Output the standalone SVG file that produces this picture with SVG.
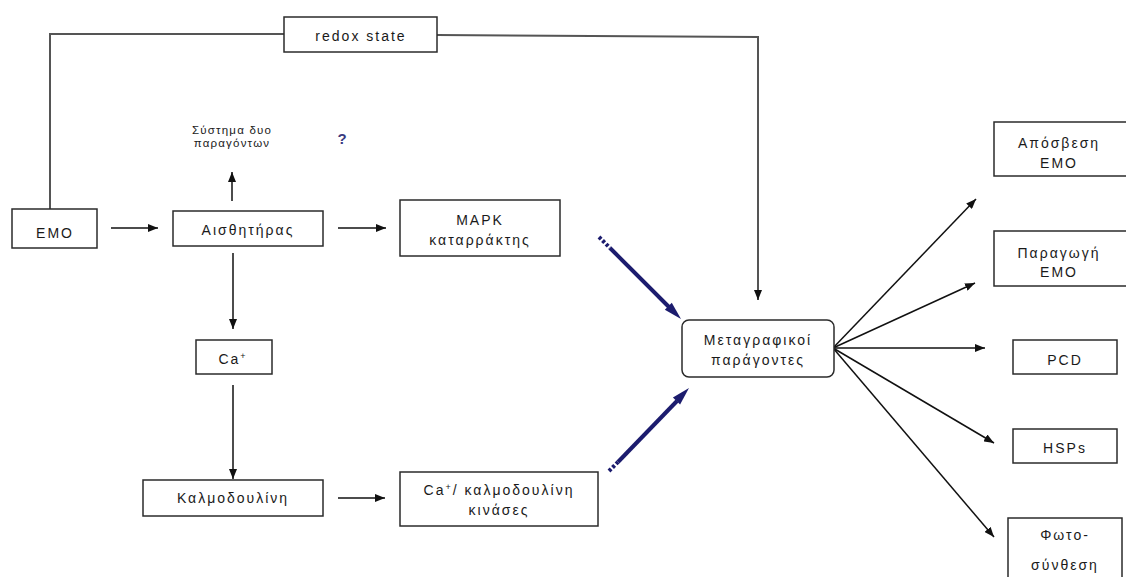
<svg xmlns="http://www.w3.org/2000/svg" width="1126" height="577" viewBox="0 0 1126 577">
  <style>
    .box { fill: #ffffff; stroke: #2b2b2b; stroke-width: 1.5; }
    .lbl { font-family: "Liberation Sans", Arial, sans-serif; font-size: 14px; letter-spacing: 2px; fill: #1a1a1a; text-anchor: middle; }
    .small { font-family: "Liberation Sans", Arial, sans-serif; font-size: 11.5px; letter-spacing: 1.2px; fill: #1a1a1a; text-anchor: middle; }
    .q { font-family: "Liberation Sans", Arial, sans-serif; font-size: 15px; font-weight: bold; fill: #3a3a80; text-anchor: middle; }
    .arr { fill: none; stroke: #111111; stroke-width: 1.5; marker-end: url(#head); }
    .feedback { fill: none; stroke: #555555; stroke-width: 2; }
    .blue { stroke: #1c1c6e; stroke-width: 4; fill: none; }
    .blue-tail { stroke: #1c1c6e; stroke-width: 4; fill: none; stroke-dasharray: 3 2; }
    .blue-head { fill: #1c1c6e; }
  </style>
  <defs>
    <marker id="head" markerUnits="userSpaceOnUse" markerWidth="10" markerHeight="8" refX="10" refY="4" orient="auto">
      <path d="M0,0 L10,4 L0,8 z" fill="#111111"/>
    </marker>
  </defs>

  <rect width="1126" height="577" fill="#ffffff"/>

  <!-- connectors -->
  <g id="connectors">
    <!-- redox state feedback loop -->
    <path class="feedback" d="M50,209 V34 H284"/>
    <path class="feedback" d="M437,35 L758,37 V292"/>
    <path d="M758,292 V300" class="arr"/>

    <!-- signalling chain -->
    <line class="arr" x1="111" y1="228" x2="158" y2="228"/>
    <line class="arr" x1="338" y1="228" x2="386" y2="228"/>
    <line class="arr" x1="232" y1="201" x2="232" y2="172"/>
    <line class="arr" x1="233" y1="253" x2="233" y2="329"/>
    <line class="arr" x1="233" y1="385" x2="233" y2="479"/>
    <line class="arr" x1="338" y1="498" x2="385" y2="498"/>

    <!-- blue arrows into transcription factors -->
    <line class="blue-tail" x1="599" y1="237" x2="610" y2="248"/>
    <line class="blue" x1="610" y1="248" x2="669" y2="307"/>
    <polygon class="blue-head" points="681,319 664.8,309.8 671.8,302.8"/>

    <line class="blue-tail" x1="609" y1="471" x2="618" y2="462"/>
    <line class="blue" x1="618" y1="462" x2="677" y2="401"/>
    <polygon class="blue-head" points="689,388 680.1,404.5 672.9,397.5"/>

    <!-- outputs -->
    <line class="arr" x1="833" y1="348" x2="976" y2="199"/>
    <line class="arr" x1="833" y1="348" x2="975" y2="283"/>
    <line class="arr" x1="833" y1="348" x2="985" y2="348"/>
    <line class="arr" x1="833" y1="348" x2="994" y2="443"/>
    <line class="arr" x1="833" y1="348" x2="994" y2="537"/>
  </g>

  <g id="redox">
    <rect class="box" x="284" y="17" width="153" height="35"/>
    <text class="lbl" x="361" y="41">redox state</text>
  </g>

  <g id="two-component">
    <text class="small" x="232" y="134">Σύστημα δυο</text>
    <text class="small" x="232" y="147">παραγόντων</text>
  </g>

  <g id="question">
    <text class="q" x="342" y="144">?</text>
  </g>

  <g id="emo">
    <rect class="box" x="12" y="209" width="85" height="39"/>
    <text class="lbl" x="55" y="238">EMO</text>
  </g>

  <g id="sensor">
    <rect class="box" x="173" y="211" width="150" height="35"/>
    <text class="lbl" x="248" y="235">Αισθητήρας</text>
  </g>

  <g id="mapk">
    <rect class="box" x="400" y="200" width="160" height="56"/>
    <text class="lbl" x="480" y="225">MAPK</text>
    <text class="lbl" x="480" y="245">καταρράκτης</text>
  </g>

  <g id="calcium">
    <rect class="box" x="196" y="340" width="76" height="34"/>
    <text class="lbl" x="233" y="364">Ca<tspan font-size="9" dy="-5">+</tspan></text>
  </g>

  <g id="calmodulin">
    <rect class="box" x="143" y="480" width="180" height="36"/>
    <text class="lbl" x="233" y="503">Καλμοδουλίνη</text>
  </g>

  <g id="cam-kinases">
    <rect class="box" x="400" y="472" width="198" height="54"/>
    <text class="lbl" x="499" y="495">Ca<tspan font-size="9" dy="-5">+</tspan><tspan dy="5">/ καλμοδουλίνη</tspan></text>
    <text class="lbl" x="499" y="515">κινάσες</text>
  </g>

  <g id="transcription-factors">
    <rect class="box" x="682" y="320" width="152" height="57" rx="7" ry="7"/>
    <text class="lbl" x="758" y="345">Μεταγραφικοί</text>
    <text class="lbl" x="758" y="365">παράγοντες</text>
  </g>

  <g id="quenching">
    <rect class="box" x="994" y="122" width="140" height="54"/>
    <text class="lbl" x="1059" y="148">Απόσβεση</text>
    <text class="lbl" x="1059" y="168">EMO</text>
  </g>

  <g id="production">
    <rect class="box" x="994" y="231" width="140" height="55"/>
    <text class="lbl" x="1059" y="258">Παραγωγή</text>
    <text class="lbl" x="1059" y="277">EMO</text>
  </g>

  <g id="pcd">
    <rect class="box" x="1013" y="340" width="104" height="34"/>
    <text class="lbl" x="1065" y="365">PCD</text>
  </g>

  <g id="hsps">
    <rect class="box" x="1013" y="429" width="104" height="34"/>
    <text class="lbl" x="1065" y="453">HSPs</text>
  </g>

  <g id="photosynthesis">
    <rect class="box" x="1008" y="518" width="114" height="70"/>
    <text class="lbl" x="1065" y="540">Φωτο-</text>
    <text class="lbl" x="1065" y="570">σύνθεση</text>
  </g>
</svg>
